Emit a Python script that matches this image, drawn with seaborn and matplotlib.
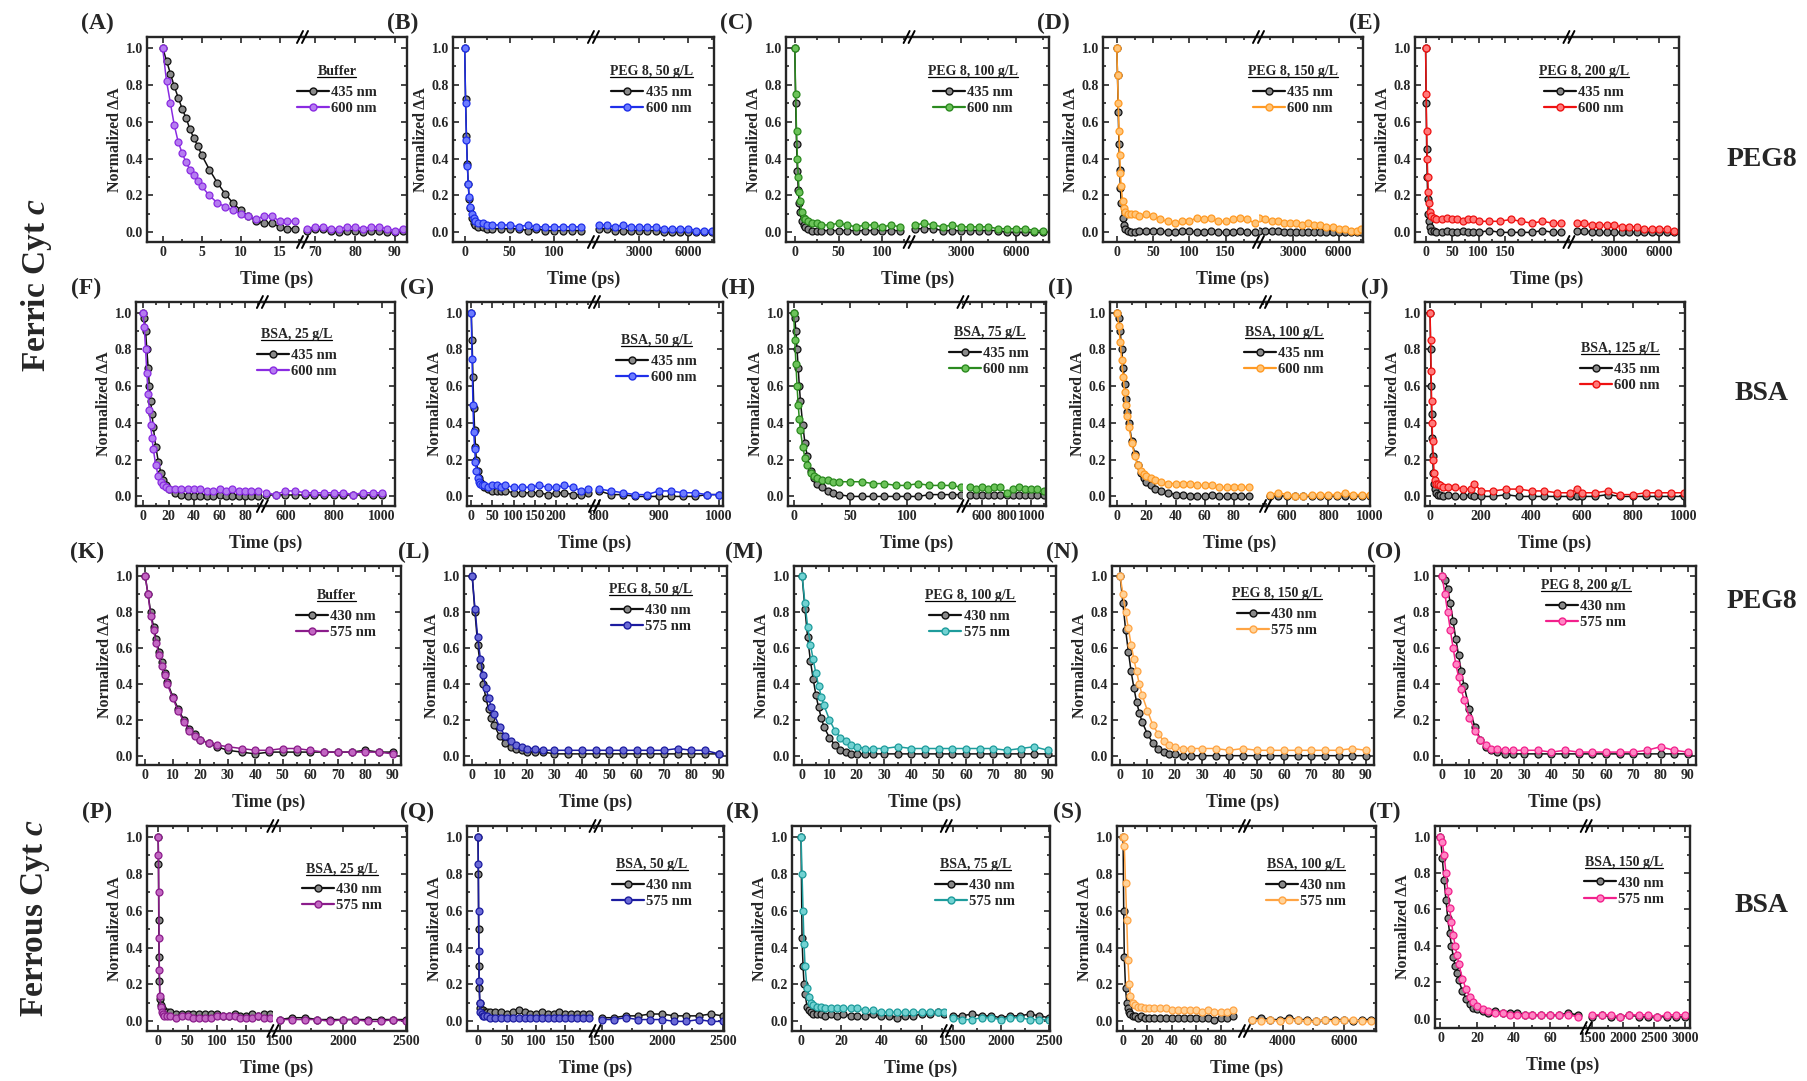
## transient absorption decays of ferric / ferrous cyt c in crowders (20 panels)

import matplotlib
matplotlib.use("Agg")
import matplotlib.pyplot as plt
from matplotlib.lines import Line2D
from matplotlib.ticker import AutoMinorLocator, FixedLocator, MultipleLocator, FormatStrFormatter
import seaborn as sns

## data
# ---- row 1 : ferric, PEG 8 ----
A_T1 = [0, 0.5, 1, 1.5, 2, 2.5, 3, 3.5, 4, 4.5, 5, 6, 7, 8, 9, 10, 11, 12, 13, 14, 15, 16, 17]
A_435_1 = [1.0, 0.93, 0.86, 0.79, 0.73, 0.67, 0.62, 0.56, 0.51, 0.47, 0.42, 0.34, 0.27, 0.21, 0.16, 0.12, 0.09, 0.06, 0.05, 0.05, 0.03, 0.02, 0.02]
A_600_1 = [1.0, 0.82, 0.70, 0.58, 0.49, 0.43, 0.38, 0.34, 0.31, 0.28, 0.25, 0.20, 0.16, 0.14, 0.12, 0.10, 0.09, 0.07, 0.09, 0.09, 0.06, 0.06, 0.06]
A_T2 = [68, 70, 72, 74, 76, 78, 80, 82, 84, 86, 88, 90, 92]
A_435_2 = [0.01, 0.02, 0.02, 0.01, 0.00, 0.01, 0.01, 0.00, 0.01, 0.01, 0.00, 0.00, 0.01]
A_600_2 = [0.02, 0.03, 0.03, 0.02, 0.02, 0.03, 0.03, 0.02, 0.03, 0.03, 0.02, 0.01, 0.02]

B_T1 = [0, 1, 2, 3, 4, 5, 6, 8, 10, 12, 15, 20, 25, 30, 40, 50, 60, 70, 80, 90, 100, 110, 120, 130]
B_435_1 = [1.0, 0.72, 0.52, 0.37, 0.26, 0.18, 0.13, 0.08, 0.05, 0.04, 0.03, 0.03, 0.02, 0.02, 0.02, 0.02, 0.02, 0.01, 0.02, 0.01, 0.01, 0.01, 0.01, 0.01]
B_600_1 = [1.0, 0.70, 0.50, 0.36, 0.26, 0.19, 0.14, 0.10, 0.08, 0.06, 0.05, 0.05, 0.04, 0.04, 0.04, 0.04, 0.03, 0.04, 0.03, 0.03, 0.03, 0.03, 0.03, 0.03]
B_T2 = [500, 1000, 1500, 2000, 2500, 3000, 3500, 4000, 4500, 5000, 5500, 6000, 6500, 7000, 7500]
B_435_2 = [0.02, 0.02, 0.01, 0.01, 0.01, 0.01, 0.01, 0.01, 0.00, 0.00, 0.00, 0.00, 0.00, 0.00, 0.00]
B_600_2 = [0.04, 0.04, 0.03, 0.04, 0.03, 0.03, 0.03, 0.03, 0.02, 0.02, 0.02, 0.02, 0.01, 0.01, 0.01]

C_T1 = [0, 1, 2, 3, 4, 5, 6, 8, 10, 12, 15, 20, 25, 30, 40, 50, 60, 70, 80, 90, 100, 110, 120]
C_435_1 = [1.0, 0.70, 0.48, 0.33, 0.23, 0.16, 0.11, 0.06, 0.04, 0.03, 0.02, 0.01, 0.01, 0.01, 0.01, 0.01, 0.01, 0.01, 0.01, 0.01, 0.01, 0.01, 0.01]
C_600_1 = [1.0, 0.75, 0.55, 0.40, 0.30, 0.22, 0.17, 0.11, 0.08, 0.07, 0.06, 0.05, 0.05, 0.04, 0.04, 0.05, 0.04, 0.03, 0.04, 0.04, 0.03, 0.04, 0.03]
C_T2 = [500, 1000, 1500, 2000, 2500, 3000, 3500, 4000, 4500, 5000, 5500, 6000, 6500, 7000, 7500]
C_435_2 = [0.02, 0.02, 0.02, 0.01, 0.01, 0.01, 0.01, 0.01, 0.01, 0.01, 0.00, 0.00, 0.00, 0.00, 0.00]
C_600_2 = [0.04, 0.05, 0.04, 0.03, 0.04, 0.03, 0.03, 0.03, 0.03, 0.02, 0.02, 0.02, 0.02, 0.01, 0.01]

D_T1 = [0, 1, 2, 3, 4, 5, 6, 8, 10, 12, 15, 20, 25, 30, 40, 50, 60, 70, 80, 90, 100, 110, 120, 130, 140, 150, 160, 170, 180, 190]
D_435_1 = [1.0, 0.85, 0.65, 0.48, 0.34, 0.24, 0.16, 0.08, 0.04, 0.02, 0.01, 0.00, 0.00, 0.01, 0.01, 0.01, 0.01, 0.00, 0.00, 0.01, 0.01, 0.00, 0.00, 0.01, 0.00, 0.00, 0.00, 0.01, 0.00, 0.00]
D_600_1 = [1.0, 0.85, 0.70, 0.55, 0.42, 0.32, 0.25, 0.17, 0.13, 0.11, 0.10, 0.10, 0.10, 0.09, 0.10, 0.09, 0.07, 0.06, 0.05, 0.06, 0.06, 0.08, 0.07, 0.08, 0.06, 0.06, 0.07, 0.08, 0.07, 0.05]
D_T2 = [800, 1200, 1600, 2000, 2400, 2800, 3200, 3600, 4000, 4400, 4800, 5200, 5600, 6000, 6400, 6800, 7200, 7500]
D_435_2 = [0.01, 0.01, 0.01, 0.01, 0.00, 0.00, 0.00, 0.00, 0.00, 0.00, 0.00, 0.00, 0.00, 0.00, 0.00, 0.00, 0.00, 0.00]
D_600_2 = [0.08, 0.07, 0.06, 0.06, 0.05, 0.05, 0.05, 0.04, 0.05, 0.04, 0.04, 0.03, 0.03, 0.02, 0.02, 0.01, 0.01, 0.02]

E_T1 = [0, 1, 2, 3, 4, 5, 6, 8, 10, 15, 20, 30, 40, 50, 60, 70, 80, 90, 100, 120, 140, 160, 180, 200, 220, 240, 255]
E_435_1 = [1.0, 0.70, 0.45, 0.30, 0.18, 0.10, 0.06, 0.03, 0.01, 0.01, 0.00, 0.00, 0.01, 0.00, 0.00, 0.01, 0.00, 0.00, 0.00, 0.01, 0.00, 0.00, 0.00, 0.00, 0.01, 0.00, 0.00]
E_600_1 = [1.0, 0.75, 0.55, 0.40, 0.30, 0.22, 0.16, 0.11, 0.09, 0.08, 0.07, 0.07, 0.08, 0.07, 0.07, 0.06, 0.07, 0.07, 0.06, 0.06, 0.06, 0.07, 0.06, 0.05, 0.06, 0.05, 0.05]
E_T2 = [500, 1000, 1500, 2000, 2500, 3000, 3500, 4000, 4500, 5000, 5500, 6000, 6500, 7000]
E_435_2 = [0.01, 0.01, 0.00, 0.00, 0.00, 0.00, 0.00, 0.00, 0.00, 0.00, 0.00, 0.00, 0.00, 0.00]
E_600_2 = [0.05, 0.05, 0.04, 0.04, 0.04, 0.04, 0.03, 0.03, 0.03, 0.02, 0.02, 0.02, 0.02, 0.01]

# ---- row 2 : ferric, BSA ----
F_T1 = [0, 1, 2, 3, 4, 5, 6, 7, 8, 10, 12, 14, 16, 18, 20, 25, 30, 35, 40, 45, 50, 55, 60, 65, 70, 75, 80, 85, 90]
F_435_1 = [1.0, 0.97, 0.9, 0.8, 0.7, 0.6, 0.52, 0.45, 0.38, 0.27, 0.19, 0.13, 0.09, 0.06, 0.04, 0.02, 0.01, 0.0, 0.0, 0.0, 0.0, 0.0, 0.01, 0.0, 0.0, 0.0, 0.0, 0.0, 0.0]
F_600_1 = [1.0, 0.92, 0.8, 0.67, 0.56, 0.47, 0.39, 0.32, 0.26, 0.17, 0.11, 0.08, 0.06, 0.05, 0.04, 0.04, 0.04, 0.04, 0.04, 0.04, 0.03, 0.03, 0.04, 0.03, 0.04, 0.03, 0.03, 0.03, 0.03]
F_T2 = [520, 560, 600, 640, 680, 720, 760, 800, 840, 880, 920, 960, 1000]
F_435_2 = [0.01, 0.01, 0.01, 0.01, 0.01, 0.01, 0.01, 0.01, 0.01, 0.01, 0.01, 0.01, 0.01]
F_600_2 = [0.02, 0.01, 0.03, 0.03, 0.02, 0.02, 0.02, 0.02, 0.02, 0.01, 0.02, 0.02, 0.02]

G_T1 = [0, 2, 4, 6, 8, 10, 12, 15, 18, 21, 25, 30, 40, 50, 60, 70, 80, 100, 120, 140, 160, 180, 200, 220, 240, 260, 275]
G_435_1 = [1.0, 0.85, 0.65, 0.48, 0.36, 0.27, 0.2, 0.14, 0.1, 0.08, 0.07, 0.05, 0.04, 0.03, 0.03, 0.03, 0.03, 0.02, 0.02, 0.02, 0.02, 0.01, 0.02, 0.02, 0.01, 0.01, 0.02]
G_600_1 = [1.0, 0.75, 0.5, 0.35, 0.26, 0.19, 0.14, 0.1, 0.08, 0.07, 0.06, 0.06, 0.05, 0.06, 0.06, 0.05, 0.06, 0.05, 0.05, 0.05, 0.06, 0.05, 0.05, 0.06, 0.05, 0.03, 0.04]
G_T2 = [800, 820, 840, 860, 880, 900, 920, 940, 960, 980, 1000]
G_435_2 = [0.03, 0.01, 0.01, 0.00, 0.00, 0.00, 0.00, 0.00, 0.00, 0.01, 0.01]
G_600_2 = [0.04, 0.03, 0.02, 0.01, 0.01, 0.03, 0.03, 0.02, 0.02, 0.01, 0.01]

H_T1 = [0, 1, 2, 3, 4, 5, 6, 8, 10, 12, 15, 18, 21, 25, 30, 35, 40, 50, 60, 70, 80, 90, 100, 110, 120, 130, 140, 148]
H_435_1 = [1.0, 0.97, 0.9, 0.8, 0.7, 0.6, 0.52, 0.39, 0.29, 0.22, 0.14, 0.1, 0.07, 0.05, 0.03, 0.02, 0.01, 0.0, 0.0, 0.0, 0.0, 0.0, 0.0, 0.0, 0.01, 0.01, 0.01, 0.01]
H_600_1 = [1.0, 0.85, 0.72, 0.6, 0.5, 0.42, 0.36, 0.27, 0.21, 0.17, 0.13, 0.11, 0.1, 0.09, 0.09, 0.08, 0.08, 0.08, 0.08, 0.07, 0.07, 0.06, 0.06, 0.07, 0.06, 0.06, 0.06, 0.05]
H_T2 = [500, 550, 600, 650, 700, 750, 800, 850, 900, 950, 1000, 1050, 1100]
H_435_2 = [0.01, 0.01, 0.01, 0.01, 0.01, 0.01, 0.01, 0.01, 0.01, 0.01, 0.01, 0.01, 0.01]
H_600_2 = [0.05, 0.04, 0.05, 0.04, 0.05, 0.05, 0.02, 0.04, 0.05, 0.04, 0.04, 0.04, 0.03]

I_T1 = [0, 1, 2, 3, 4, 5, 6, 7, 8, 10, 12, 14, 16, 18, 20, 23, 26, 30, 35, 40, 45, 50, 55, 60, 65, 70, 75, 80, 85, 90]
I_435_1 = [1.0, 0.97, 0.9, 0.8, 0.7, 0.61, 0.53, 0.46, 0.4, 0.3, 0.23, 0.17, 0.13, 0.1, 0.08, 0.06, 0.04, 0.03, 0.02, 0.01, 0.01, 0.0, 0.0, 0.0, 0.01, 0.0, 0.0, 0.0, 0.0, 0.0]
I_600_1 = [1.0, 0.93, 0.84, 0.74, 0.65, 0.57, 0.5, 0.44, 0.38, 0.29, 0.22, 0.17, 0.14, 0.12, 0.11, 0.1, 0.09, 0.08, 0.07, 0.07, 0.07, 0.07, 0.06, 0.06, 0.06, 0.05, 0.05, 0.05, 0.05, 0.05]
I_T2 = [520, 560, 600, 640, 680, 720, 760, 800, 840, 880, 920, 960, 1000]
I_435_2 = [0.00, 0.00, 0.00, 0.00, 0.00, 0.00, 0.00, 0.00, 0.00, 0.00, 0.00, 0.00, 0.00]
I_600_2 = [0.01, 0.02, 0.01, 0.00, 0.00, 0.01, 0.01, 0.01, 0.01, 0.02, 0.01, 0.01, 0.01]

J_T = [0, 2, 4, 6, 8, 10, 13, 16, 20, 25, 30, 40, 50, 70, 100, 130, 160, 175, 200, 250, 300, 350, 400, 450, 500, 550, 580, 600, 650, 700, 750, 800, 850, 900, 950, 1000]
J_435 = [1.0, 0.8, 0.6, 0.45, 0.32, 0.22, 0.13, 0.07, 0.04, 0.02, 0.01, 0.01, 0.0, 0.01, 0.0, 0.0, 0.01, 0.0, 0.0, 0.0, 0.01, 0.0, 0.0, 0.0, 0.0, 0.0, 0.0, 0.0, 0.0, 0.01, 0.0, 0.0, 0.0, 0.0, 0.0, 0.0]
J_600 = [1.0, 0.85, 0.68, 0.52, 0.40, 0.30, 0.20, 0.13, 0.09, 0.07, 0.07, 0.06, 0.05, 0.05, 0.05, 0.04, 0.04, 0.07, 0.03, 0.03, 0.04, 0.04, 0.03, 0.03, 0.02, 0.02, 0.04, 0.02, 0.02, 0.03, 0.01, 0.01, 0.02, 0.02, 0.02, 0.02]

# ---- row 3 : ferrous, PEG 8 (same delay grid) ----
T_KO = [0, 1, 2, 3, 4, 5, 6, 7, 8, 10, 12, 14, 16, 18, 20, 23, 26, 30, 35, 40, 45, 50, 55, 60, 65, 70, 75, 80, 85, 90]
K_430 = [1.0, 0.9, 0.8, 0.72, 0.65, 0.58, 0.52, 0.46, 0.41, 0.33, 0.26, 0.2, 0.15, 0.12, 0.09, 0.07, 0.05, 0.03, 0.02, 0.01, 0.02, 0.02, 0.02, 0.02, 0.02, 0.02, 0.02, 0.03, 0.02, 0.02]
K_575 = [1.0, 0.9, 0.78, 0.7, 0.63, 0.56, 0.5, 0.45, 0.4, 0.32, 0.25, 0.19, 0.14, 0.11, 0.09, 0.07, 0.06, 0.05, 0.04, 0.03, 0.03, 0.04, 0.04, 0.03, 0.02, 0.02, 0.02, 0.02, 0.02, 0.01]
L_430 = [1.0, 0.8, 0.62, 0.5, 0.4, 0.32, 0.26, 0.21, 0.17, 0.11, 0.07, 0.05, 0.04, 0.03, 0.02, 0.02, 0.02, 0.01, 0.01, 0.01, 0.01, 0.01, 0.01, 0.01, 0.01, 0.01, 0.01, 0.01, 0.01, 0.01]
L_575 = [1.0, 0.82, 0.66, 0.54, 0.45, 0.38, 0.32, 0.27, 0.23, 0.16, 0.11, 0.08, 0.06, 0.05, 0.04, 0.04, 0.03, 0.03, 0.03, 0.03, 0.03, 0.03, 0.03, 0.03, 0.03, 0.03, 0.04, 0.03, 0.03, 0.01]
M_430 = [1.0, 0.82, 0.66, 0.53, 0.43, 0.34, 0.27, 0.21, 0.16, 0.10, 0.06, 0.03, 0.02, 0.01, 0.01, 0.01, 0.01, 0.01, 0.01, 0.01, 0.01, 0.01, 0.01, 0.01, 0.01, 0.01, 0.01, 0.01, 0.01, 0.01]
M_575 = [1.0, 0.85, 0.72, 0.62, 0.54, 0.46, 0.39, 0.33, 0.28, 0.20, 0.14, 0.10, 0.08, 0.06, 0.05, 0.04, 0.04, 0.04, 0.05, 0.04, 0.04, 0.04, 0.04, 0.04, 0.04, 0.04, 0.03, 0.04, 0.05, 0.03]
N_430 = [1.0, 0.85, 0.7, 0.58, 0.47, 0.38, 0.3, 0.24, 0.19, 0.12, 0.07, 0.04, 0.02, 0.01, 0.01, 0.0, 0.0, 0.0, 0.0, 0.0, 0.0, 0.0, 0.0, 0.0, 0.0, 0.0, 0.0, 0.0, 0.0, 0.0]
N_575 = [1.0, 0.9, 0.8, 0.71, 0.62, 0.54, 0.47, 0.4, 0.34, 0.25, 0.17, 0.12, 0.08, 0.06, 0.05, 0.04, 0.04, 0.04, 0.04, 0.03, 0.04, 0.03, 0.03, 0.03, 0.03, 0.03, 0.03, 0.03, 0.04, 0.03]
O_430 = [1.0, 0.98, 0.93, 0.85, 0.75, 0.65, 0.56, 0.47, 0.39, 0.26, 0.16, 0.09, 0.05, 0.03, 0.02, 0.01, 0.01, 0.01, 0.01, 0.01, 0.01, 0.01, 0.01, 0.01, 0.01, 0.01, 0.01, 0.01, 0.01, 0.01]
O_575 = [1.0, 0.9, 0.8, 0.7, 0.6, 0.51, 0.44, 0.37, 0.31, 0.21, 0.14, 0.09, 0.06, 0.04, 0.04, 0.03, 0.03, 0.03, 0.03, 0.02, 0.03, 0.02, 0.02, 0.02, 0.02, 0.02, 0.03, 0.05, 0.03, 0.02]

# ---- row 4 : ferrous, BSA ----
T_PQ1 = [0, 0.5, 1, 1.5, 2, 3, 4, 6, 8, 10, 15, 20, 30, 40, 50, 60, 70, 80, 90, 100, 110, 120, 130, 140, 150, 160, 170, 180, 190]
T_PQ2 = [1500, 1600, 1700, 1800, 1900, 2000, 2100, 2200, 2300, 2400, 2500]
P_430_1 = [1.0, 0.85, 0.55, 0.35, 0.22, 0.12, 0.09, 0.07, 0.06, 0.05, 0.05, 0.05, 0.04, 0.04, 0.04, 0.04, 0.04, 0.04, 0.04, 0.04, 0.03, 0.03, 0.04, 0.03, 0.03, 0.04, 0.03, 0.04, 0.04]
P_575_1 = [1.0, 0.9, 0.7, 0.45, 0.28, 0.14, 0.08, 0.05, 0.04, 0.03, 0.03, 0.03, 0.02, 0.03, 0.03, 0.02, 0.02, 0.02, 0.02, 0.03, 0.03, 0.03, 0.03, 0.02, 0.02, 0.02, 0.03, 0.02, 0.02]
P_430_2 = [0.01, 0.02, 0.02, 0.01, 0.01, 0.01, 0.01, 0.01, 0.01, 0.01, 0.01]
P_575_2 = [0.01, 0.01, 0.01, 0.01, 0.00, 0.01, 0.01, 0.00, 0.00, 0.01, 0.00]
Q_430_1 = [1.0, 0.8, 0.5, 0.3, 0.18, 0.1, 0.07, 0.06, 0.06, 0.05, 0.05, 0.05, 0.05, 0.05, 0.04, 0.05, 0.06, 0.05, 0.04, 0.04, 0.05, 0.04, 0.04, 0.05, 0.04, 0.04, 0.04, 0.04, 0.04]
Q_575_1 = [1.0, 0.85, 0.6, 0.38, 0.22, 0.1, 0.05, 0.04, 0.03, 0.03, 0.03, 0.02, 0.02, 0.02, 0.02, 0.02, 0.02, 0.02, 0.02, 0.02, 0.02, 0.02, 0.02, 0.02, 0.02, 0.02, 0.02, 0.02, 0.02]
Q_430_2 = [0.02, 0.02, 0.03, 0.03, 0.04, 0.04, 0.03, 0.03, 0.03, 0.04, 0.03]
Q_575_2 = [0.01, 0.01, 0.02, 0.01, 0.01, 0.01, 0.00, 0.00, 0.01, 0.00, 0.00]

R_T1 = [0, 0.5, 1, 1.5, 2, 3, 4, 5, 6, 8, 10, 12, 15, 18, 21, 25, 28, 32, 36, 40, 44, 48, 52, 56, 60, 64, 68, 71]
R_430_1 = [1.0, 0.45, 0.3, 0.2, 0.15, 0.08, 0.06, 0.05, 0.04, 0.04, 0.04, 0.03, 0.04, 0.03, 0.04, 0.03, 0.03, 0.03, 0.04, 0.03, 0.03, 0.02, 0.03, 0.03, 0.04, 0.04, 0.05, 0.04]
R_575_1 = [1.0, 0.8, 0.6, 0.42, 0.3, 0.18, 0.13, 0.1, 0.09, 0.08, 0.08, 0.07, 0.07, 0.07, 0.07, 0.07, 0.07, 0.06, 0.06, 0.05, 0.05, 0.05, 0.05, 0.05, 0.05, 0.05, 0.05, 0.05]
R_T2 = [1500, 1600, 1700, 1800, 1900, 2000, 2100, 2200, 2300, 2400, 2500]
R_430_2 = [0.03, 0.03, 0.04, 0.03, 0.03, 0.02, 0.03, 0.03, 0.04, 0.03, 0.02]
R_575_2 = [0.02, 0.01, 0.01, 0.02, 0.02, 0.01, 0.02, 0.02, 0.01, 0.01, 0.01]

S_T1 = [0, 0.5, 1, 2, 3, 4, 5, 6, 8, 10, 12, 15, 18, 21, 25, 30, 35, 40, 45, 50, 55, 60, 65, 70, 75, 80, 85, 90]
S_430_1 = [1.0, 0.6, 0.35, 0.18, 0.1, 0.07, 0.05, 0.04, 0.03, 0.03, 0.02, 0.03, 0.02, 0.02, 0.02, 0.02, 0.02, 0.02, 0.02, 0.02, 0.02, 0.02, 0.02, 0.02, 0.01, 0.02, 0.02, 0.03]
S_575_1 = [1.0, 1.0, 0.95, 0.75, 0.55, 0.33, 0.2, 0.14, 0.1, 0.09, 0.08, 0.08, 0.07, 0.07, 0.07, 0.07, 0.07, 0.06, 0.06, 0.06, 0.06, 0.06, 0.05, 0.06, 0.05, 0.05, 0.05, 0.06]
S_T2 = [3000, 3300, 3600, 3900, 4200, 4500, 4800, 5100, 5400, 5700, 6000, 6300, 6600, 6900]
S_430_2 = [0.01, 0.02, 0.01, 0.01, 0.02, 0.01, 0.01, 0.00, 0.01, 0.01, 0.01, 0.00, 0.01, 0.01]
S_575_2 = [0.01, 0.00, 0.01, 0.00, 0.01, 0.01, 0.00, 0.00, 0.01, 0.00, 0.01, 0.01, 0.00, 0.00]

T_T1 = [0, 1, 2, 3, 4, 5, 6, 7, 8, 9, 10, 12, 14, 16, 18, 20, 23, 26, 30, 34, 38, 42, 46, 50, 55, 60, 65, 70, 75]
T_430_1 = [1.0, 0.88, 0.76, 0.65, 0.55, 0.47, 0.4, 0.34, 0.29, 0.25, 0.21, 0.15, 0.11, 0.08, 0.06, 0.05, 0.04, 0.03, 0.04, 0.03, 0.03, 0.03, 0.02, 0.02, 0.02, 0.02, 0.02, 0.03, 0.02]
T_575_1 = [1.0, 0.97, 0.9, 0.8, 0.7, 0.61, 0.53, 0.46, 0.4, 0.35, 0.3, 0.22, 0.16, 0.12, 0.09, 0.07, 0.05, 0.04, 0.03, 0.03, 0.02, 0.02, 0.02, 0.02, 0.02, 0.02, 0.02, 0.02, 0.01]
T_T2 = [1500, 1650, 1800, 1950, 2100, 2250, 2400, 2550, 2700, 2850, 3000]
T_430_2 = [0.01, 0.02, 0.01, 0.01, 0.02, 0.01, 0.01, 0.01, 0.01, 0.01, 0.01]
T_575_2 = [0.02, 0.02, 0.02, 0.01, 0.02, 0.02, 0.02, 0.01, 0.02, 0.02, 0.02]

LEG_TITLES = ['Buffer', 'PEG 8, 50 g/L', 'PEG 8, 100 g/L', 'PEG 8, 150 g/L', 'PEG 8, 200 g/L',
              'BSA, 25 g/L', 'BSA, 50 g/L', 'BSA, 75 g/L', 'BSA, 100 g/L', 'BSA, 125 g/L',
              'Buffer', 'PEG 8, 50 g/L', 'PEG 8, 100 g/L', 'PEG 8, 150 g/L', 'PEG 8, 200 g/L',
              'BSA, 25 g/L', 'BSA, 50 g/L', 'BSA, 75 g/L', 'BSA, 100 g/L', 'BSA, 150 g/L']
WAVES_FERRIC = ['435 nm', '600 nm']
WAVES_FERROUS = ['430 nm', '575 nm']
ROW_NAMES = ['Ferric Cyt $\\mathit{c}$', 'Ferrous Cyt $\\mathit{c}$']
SIDE_NAMES = ['PEG8', 'BSA', 'PEG8', 'BSA']

## styles (edge colour, face colour)
BLACK = ('#111111', '#8a8a8a')
PURPLE = ('#8A2BE2', '#B57CF0')
BLUE = ('#1F2FEA', '#6C7CFF')
GREEN = ('#2B8A1F', '#6CC35A')
ORANGE = ('#FF9A24', '#FFC57A')
RED = ('#EE1111', '#FF7A7A')
MAGENTA = ('#8B1C8B', '#C267C2')
NAVY = ('#1C1CA0', '#6A6AD6')
TEAL = ('#1E9C9C', '#72D2D2')
LORANGE = ('#FFA443', '#FFD39A')
PINK = ('#F2208C', '#FF86C4')

W, H = 1807, 1081

sns.set_style("ticks")
plt.rcParams['font.family'] = ['Liberation Serif', 'DejaVu Serif']
plt.rcParams['font.weight'] = 'bold'
plt.rcParams['axes.labelweight'] = 'bold'
plt.rcParams['mathtext.fontset'] = 'custom'
plt.rcParams['mathtext.rm'] = 'Liberation Serif:bold'
plt.rcParams['mathtext.it'] = 'Liberation Serif:italic:bold'
plt.rcParams['mathtext.bf'] = 'Liberation Serif:bold'

fig = plt.figure(figsize=(W / 100, H / 100), dpi=100)


def fig_rect(l, t, w, h):
    return [l / W, 1 - (t + h) / H, w / W, h / H]


def style_axes(ax, xlim, ticks, side):
    ax.set_xlim(*xlim)
    ax.set_ylim(-0.052, 1.058)
    ax.xaxis.set_major_locator(FixedLocator(ticks))
    ax.xaxis.set_minor_locator(AutoMinorLocator(2))
    ax.yaxis.set_major_locator(MultipleLocator(0.2))
    ax.yaxis.set_minor_locator(MultipleLocator(0.1))
    ax.yaxis.set_major_formatter(FormatStrFormatter('%.1f'))
    for sp in ax.spines.values():
        sp.set_linewidth(1.7)
    show_left = side in ('both', 'left')
    show_right = side in ('both', 'right')
    ax.spines['left'].set_visible(show_left)
    ax.spines['right'].set_visible(show_right)
    ax.tick_params(which='both', direction='in', top=True, bottom=True,
                   left=show_left, right=show_right, labelleft=show_left,
                   labelright=False, width=1.2, labelsize=10, pad=3)
    ax.tick_params(which='major', length=4.5)
    ax.tick_params(which='minor', length=2.5)
    ax.set_xlabel('')
    ax.set_ylabel('')


def draw_series(ax, seg, col):
    t, ya, yb = seg
    for y, (ec, fc) in ((ya, BLACK), (yb, col)):
        sns.lineplot(x=t, y=y, ax=ax, color=ec, marker='o', markersize=5,
                     markeredgecolor=ec, markerfacecolor=fc, markeredgewidth=0.9,
                     linewidth=1.1, legend=False, errorbar=None)


def break_marks(x, t, h):
    for yb in (H - t, H - t - h):
        for dx in (-3, 2):
            fig.add_artist(Line2D([(x + dx - 3) / W, (x + dx + 3) / W],
                                  [(yb - 6) / H, (yb + 6) / H],
                                  transform=fig.transFigure, color='black', lw=1.4))


titles = []


def draw_panel(tag, rect, frac, xl, tl, seg1, xr, tr, seg2, title, waves, col, leg):
    l, t, w, h = rect
    if frac is None:
        ax1 = fig.add_axes(fig_rect(l, t, w, h))
        draw_series(ax1, seg1, col)
        style_axes(ax1, xl, tl, 'both')
    else:
        wl = w * frac
        ax1 = fig.add_axes(fig_rect(l, t, wl, h))
        ax2 = fig.add_axes(fig_rect(l + wl, t, w - wl, h))
        draw_series(ax1, seg1, col)
        draw_series(ax2, seg2, col)
        style_axes(ax1, xl, tl, 'left')
        style_axes(ax2, xr, tr, 'right')
        break_marks(l + wl, t, h)
    ax1.set_ylabel('Normalized \u0394A', fontsize=11.5, labelpad=2)

    # panel letter and x label
    fig.text((l - 50) / W, 1 - (t - 14) / H, '(' + tag + ')', fontsize=17,
             ha='center', va='center')
    fig.text((l + w / 2) / W, 1 - (t + h + 37) / H, 'Time (ps)', fontsize=13,
             ha='center', va='center')

    # legend: underlined title + two entries
    tx = l + leg[0] * w
    ty = t + (1 - leg[1]) * h
    titles.append(fig.text(tx / W, 1 - ty / H, title, fontsize=10, ha='center', va='center'))
    handles = [Line2D([], [], color=c[0], marker='o', ms=5, mfc=c[1], mec=c[0], lw=1.6)
               for c in (BLACK, col)]
    fig.legend(handles, waves, loc='upper center', bbox_to_anchor=(tx / W, 1 - (ty + 14) / H),
               frameon=False, fontsize=10.5, handlelength=2.2, handletextpad=0.15,
               labelspacing=0.2, borderpad=0, borderaxespad=0)


FR, FO = WAVES_FERRIC, WAVES_FERROUS
panel_specs = [
    # row 1
    ('A', (147, 37, 260, 205), 0.60, (-2, 18), [0, 5, 10, 15], (A_T1, A_435_1, A_600_1),
     (67, 93), [70, 80, 90], (A_T2, A_435_2, A_600_2), FR, PURPLE, (0.73, 0.83)),
    ('B', (453, 37, 261, 205), 0.54, (-13, 144), [0, 50, 100], (B_T1, B_435_1, B_600_1),
     (200, 7600), [3000, 6000], (B_T2, B_435_2, B_600_2), FR, BLUE, (0.76, 0.83)),
    ('C', (786, 37, 263, 205), 0.47, (-10, 131), [0, 50, 100], (C_T1, C_435_1, C_600_1),
     (200, 7800), [3000, 6000], (C_T2, C_435_2, C_600_2), FR, GREEN, (0.71, 0.83)),
    ('D', (1103, 37, 260, 205), 0.60, (-19, 196), [0, 50, 100, 150], (D_T1, D_435_1, D_600_1),
     (780, 7600), [3000, 6000], (D_T2, D_435_2, D_600_2), FR, ORANGE, (0.73, 0.83)),
    ('E', (1415, 37, 264, 205), 0.585, (-20, 271), [0, 50, 100, 150], (E_T1, E_435_1, E_600_1),
     (0, 7300), [3000, 6000], (E_T2, E_435_2, E_600_2), FR, RED, (0.64, 0.83)),
    # row 2
    ('F', (136, 302, 259, 204), 0.49, (-5.5, 94), [0, 20, 40, 60, 80], (F_T1, F_435_1, F_600_1),
     (507, 1053), [600, 800, 1000], (F_T2, F_435_2, F_600_2), FR, PURPLE, (0.62, 0.84)),
    ('G', (467, 302, 256, 204), 0.50, (-10, 292), [0, 50, 100, 150, 200], (G_T1, G_435_1, G_600_1),
     (793, 1007), [800, 900, 1000], (G_T2, G_435_2, G_600_2), FR, BLUE, (0.74, 0.81)),
    ('H', (788, 302, 258, 204), 0.68, (-5, 150), [0, 50, 100], (H_T1, H_435_1, H_600_1),
     (450, 1120), [600, 800, 1000], (H_T2, H_435_2, H_600_2), FR, GREEN, (0.78, 0.85)),
    ('I', (1110, 302, 260, 204), 0.60, (-5, 102), [0, 20, 40, 60, 80], (I_T1, I_435_1, I_600_1),
     (500, 1000), [600, 800, 1000], (I_T2, I_435_2, I_600_2), FR, ORANGE, (0.67, 0.85)),
    ('J', (1425, 302, 260, 204), None, (-20, 1005), [0, 200, 400, 600, 800, 1000], (J_T, J_435, J_600),
     None, None, None, FR, RED, (0.75, 0.77)),
    # row 3
    ('K', (137, 566, 264, 199), None, (-3, 93), list(range(0, 91, 10)), (T_KO, K_430, K_575),
     None, None, None, FO, MAGENTA, (0.755, 0.85)),
    ('L', (464, 566, 263, 199), None, (-3, 93), list(range(0, 91, 10)), (T_KO, L_430, L_575),
     None, None, None, FO, NAVY, (0.71, 0.88)),
    ('M', (794, 566, 262, 199), None, (-3, 93), list(range(0, 91, 10)), (T_KO, M_430, M_575),
     None, None, None, FO, TEAL, (0.67, 0.85)),
    ('N', (1112, 566, 262, 199), None, (-3, 93), list(range(0, 91, 10)), (T_KO, N_430, N_575),
     None, None, None, FO, LORANGE, (0.63, 0.86)),
    ('O', (1434, 566, 262, 199), None, (-3, 93), list(range(0, 91, 10)), (T_KO, O_430, O_575),
     None, None, None, FO, PINK, (0.58, 0.90)),
    # row 4
    ('P', (147, 826, 260, 205), 0.486, (-19, 196), [0, 50, 100, 150], (T_PQ1, P_430_1, P_575_1),
     (1450, 2510), [1500, 2000, 2500], (T_PQ2, P_430_2, P_575_2), FO, MAGENTA, (0.75, 0.79)),
    ('Q', (467, 826, 257, 205), 0.50, (-19, 202), [0, 50, 100, 150], (T_PQ1, Q_430_1, Q_575_1),
     (1450, 2510), [1500, 2000, 2500], (T_PQ2, Q_430_2, Q_575_2), FO, NAVY, (0.72, 0.81)),
    ('R', (792, 826, 258, 205), 0.60, (-4.5, 72.6), [0, 20, 40, 60], (R_T1, R_430_1, R_575_1),
     (1440, 2510), [1500, 2000, 2500], (R_T2, R_430_2, R_575_2), FO, TEAL, (0.71, 0.81)),
    ('S', (1117, 826, 259, 205), 0.494, (-5, 100), [0, 20, 40, 60, 80], (S_T1, S_430_1, S_575_1),
     (2770, 7050), [4000, 6000], (S_T2, S_430_2, S_575_2), FO, LORANGE, (0.73, 0.81)),
    ('T', (1435, 826, 255, 202), 0.595, (-3, 80), [0, 20, 40, 60], (T_T1, T_430_1, T_575_1),
     (1410, 3080), [1500, 2000, 2500, 3000], (T_T2, T_430_2, T_575_2), FO, PINK, (0.74, 0.82)),
]

for i, sp in enumerate(panel_specs):
    tag, rect, frac, xl, tl, seg1, xr, tr, seg2, waves, col, leg = sp
    draw_panel(tag, rect, frac, xl, tl, seg1, xr, tr, seg2, LEG_TITLES[i], waves, col, leg)

# row and crowder labels
for name, yc in zip(ROW_NAMES, (285, 918)):
    fig.text(36 / W, 1 - yc / H, name, fontsize=24, rotation=90, ha='center', va='center')
for name, yc in zip(SIDE_NAMES, (159, 394, 601, 905)):
    fig.text(1762 / W, 1 - yc / H, name, fontsize=20, ha='center', va='center')

# underline legend titles
fig.canvas.draw()
renderer = fig.canvas.get_renderer()
for txt in titles:
    bb = txt.get_window_extent(renderer)
    fig.add_artist(Line2D([bb.x0 / W, bb.x1 / W], [(bb.y0 + 1) / H, (bb.y0 + 1) / H],
                          transform=fig.transFigure, color='black', lw=0.9))

fig.savefig('out.png', dpi=100)
